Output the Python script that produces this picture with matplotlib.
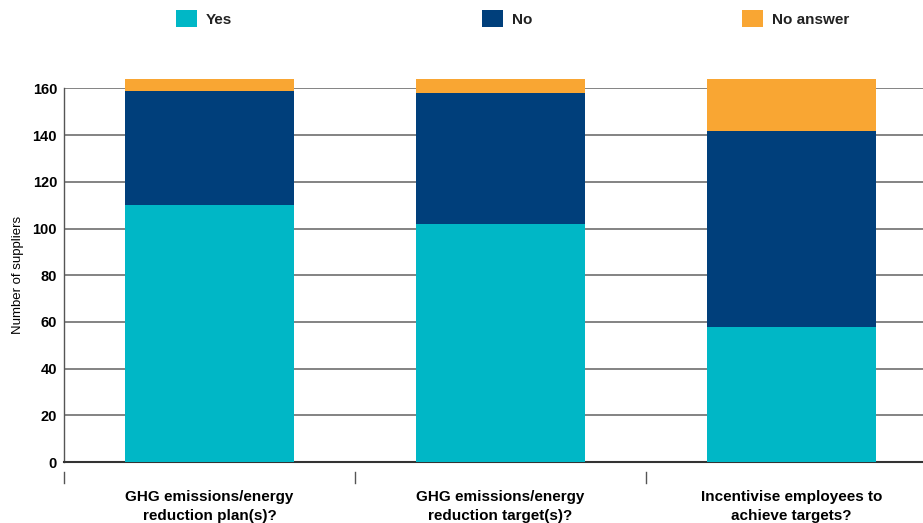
import matplotlib.pyplot as plt
from matplotlib.patches import Patch
from matplotlib.transforms import blended_transform_factory
import numpy as np

plt.rcParams['font.family'] = ['Liberation Sans', 'DejaVu Sans']

questions = ["GHG emissions/energy\nreduction plan(s)?",
             "GHG emissions/energy\nreduction target(s)?",
             "Incentivise employees to\nachieve targets?"]
yes = [110, 102, 58]
no = [49, 56, 84]
no_answer = [5, 6, 22]

series = ["Yes", "No", "No answer"]
colors = ["#00B7C6", "#003F7B", "#F9A633"]

fig = plt.figure(figsize=(9.23, 5.23), dpi=100)
ax = fig.add_axes([0.0693, 0.1166, 0.9458, 0.7142])

x = np.arange(len(questions))
bottom = np.zeros(len(questions))
for vals, c in zip([yes, no, no_answer], colors):
    ax.bar(x, vals, width=0.578, bottom=bottom, color=c, linewidth=0,
           zorder=3, clip_on=False)
    bottom += np.array(vals)

ax.set_xlim(-0.5, 2.5)
ax.set_ylim(0, 160)
ax.set_yticks(range(0, 161, 20))
ax.yaxis.grid(True, color="#7a7a7a", linewidth=1.3, zorder=0)
ax.set_axisbelow(True)

for s in ["top", "right"]:
    ax.spines[s].set_visible(False)
ax.spines["left"].set_color("#555555")
ax.spines["left"].set_linewidth(1.0)
ax.spines["bottom"].set_color("#333333")
ax.spines["bottom"].set_linewidth(1.5)

ax.tick_params(axis="y", length=0, pad=5, labelsize=10.5)
ax.tick_params(axis="x", length=0, pad=20, labelsize=11)
for lbl in ax.get_yticklabels():
    lbl.set_fontweight("bold")
ax.set_xticks(x)
ax.set_xticklabels(questions, fontweight="bold", linespacing=1.5)

# short separators under the axis between the categories
trans = blended_transform_factory(ax.transData, ax.transAxes)
for b in [-0.5, 0.5, 1.5]:
    ax.plot([b, b], [-0.027, -0.055], color="#555555", lw=1.0,
            transform=trans, clip_on=False)

ax.set_ylabel("Number of suppliers", fontsize=9.5, labelpad=6)

# legend entries laid out across the top
legend_x = [0.1907, 0.5222, 0.8039]
for name, c, lx in zip(series, colors, legend_x):
    leg = fig.legend([Patch(facecolor=c, edgecolor="none")], [name],
                     loc="upper left", bbox_to_anchor=(lx, 0.981),
                     frameon=False, fontsize=11, borderpad=0,
                     borderaxespad=0, handlelength=1.35, handleheight=1.35,
                     handletextpad=0.6)
    for t in leg.get_texts():
        t.set_fontweight("bold")
        t.set_color("#222222")

fig.savefig("out.png", dpi=100)
